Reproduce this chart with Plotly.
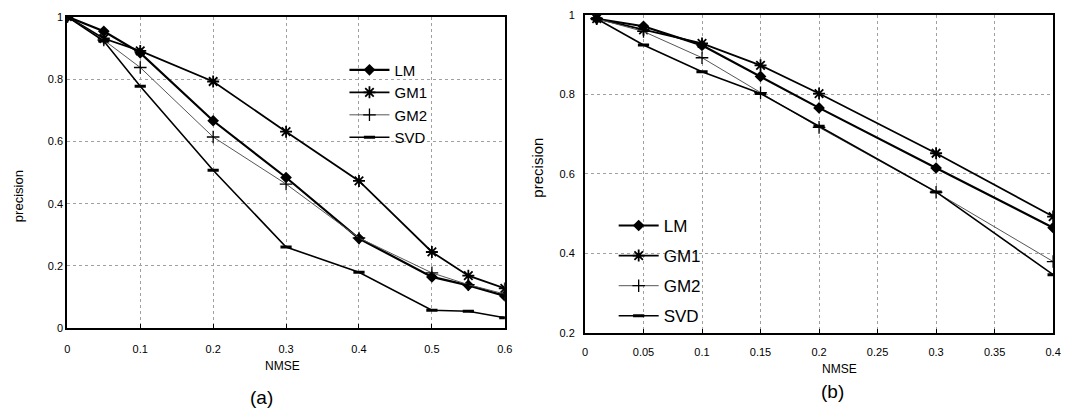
import plotly.graph_objects as go

# ---- panel (a) ----
nmse_a = [0, 0.05, 0.1, 0.2, 0.3, 0.4, 0.5, 0.55, 0.6]
lm_a = [1.0, 0.953, 0.884, 0.666, 0.484, 0.288, 0.165, 0.138, 0.104]
gm1_a = [1.0, 0.93, 0.89, 0.792, 0.631, 0.473, 0.245, 0.169, 0.128]
gm2_a = [1.0, 0.925, 0.837, 0.614, 0.463, 0.29, 0.178, 0.14, 0.11]
svd_a = [1.0, 0.922, 0.777, 0.507, 0.261, 0.18, 0.058, 0.055, 0.034]

# ---- panel (b) ----
nmse_b = [0.01, 0.05, 0.1, 0.15, 0.2, 0.3, 0.4]
lm_b = [0.99, 0.971, 0.923, 0.845, 0.766, 0.615, 0.465]
gm1_b = [0.99, 0.962, 0.928, 0.873, 0.802, 0.652, 0.493]
gm2_b = [0.99, 0.958, 0.892, 0.804, 0.717, 0.554, 0.38]
svd_b = [0.99, 0.924, 0.857, 0.802, 0.72, 0.555, 0.347]

names = ["LM", "GM1", "GM2", "SVD"]
ticks_xa = [0, 0.1, 0.2, 0.3, 0.4, 0.5, 0.6]
ticks_ya = [0, 0.2, 0.4, 0.6, 0.8, 1]
ticks_xb = [0, 0.05, 0.1, 0.15, 0.2, 0.25, 0.3, 0.35, 0.4]
ticks_yb = [0.2, 0.4, 0.6, 0.8, 1]

FONT = "Arial, Liberation Sans, sans-serif"

styles = {
    "LM": dict(line=dict(color="black", width=2.2),
               marker=dict(symbol="diamond", size=9, color="black")),
    "GM1": dict(line=dict(color="black", width=1.8),
                marker=dict(symbol="asterisk-open", size=10, color="black",
                            line=dict(width=1.8, color="black"))),
    "GM2": dict(line=dict(color="#555555", width=1),
                marker=dict(symbol="cross-thin-open", size=9, color="black",
                            line=dict(width=1.3, color="black"))),
    "SVD": dict(line=dict(color="black", width=1.6),
                marker=dict(symbol="line-ew-open", size=8, color="black",
                            line=dict(width=3, color="black"))),
}

fig = go.Figure()

for name, ys in zip(names, [lm_a, gm1_a, gm2_a, svd_a]):
    fig.add_trace(go.Scatter(x=nmse_a, y=ys, name=name, mode="lines+markers",
                             xaxis="x", yaxis="y", legend="legend",
                             **styles[name]))

for name, ys in zip(names, [lm_b, gm1_b, gm2_b, svd_b]):
    fig.add_trace(go.Scatter(x=nmse_b, y=ys, name=name, mode="lines+markers",
                             xaxis="x2", yaxis="y2", legend="legend2",
                             legendgroup="b_" + name,
                             **styles[name]))

W, H = 1073, 412


def px(x):
    return x / W


def py(y):
    return 1 - y / H


axis_common = dict(
    showline=True, linecolor="black", linewidth=2, mirror=True,
    showgrid=True, gridcolor="#a0a0a0", griddash="dot", gridwidth=1,
    zeroline=False, tickfont=dict(family=FONT, size=11, color="black"),
)

fig.update_layout(
    width=W, height=H,
    margin=dict(l=0, r=0, t=0, b=0),
    paper_bgcolor="white", plot_bgcolor="white",
    font=dict(family=FONT, color="black"),
    xaxis=dict(domain=[px(65), px(507)], range=[0, 0.6], anchor="y",
               tickvals=ticks_xa, ticktext=[f"{v:g}" for v in ticks_xa],
               ticks="inside", ticklen=4, tickcolor="black",
               ticklabelstandoff=9, **axis_common),
    yaxis=dict(domain=[py(332), py(11)], range=[0, 1], anchor="x",
               tickvals=ticks_ya, ticktext=[f"{v:g}" for v in ticks_ya],
               ticks="", **axis_common),
    xaxis2=dict(domain=[px(588), px(1061)], range=[0, 0.4], anchor="y2",
                tickvals=ticks_xb, ticktext=[f"{v:g}" for v in ticks_xb],
                ticks="inside", ticklen=4, tickcolor="black",
                ticklabelstandoff=8, **axis_common),
    yaxis2=dict(domain=[py(337), py(9)], range=[0.2, 1], anchor="x2",
                tickvals=ticks_yb, ticktext=[f"{v:g}" for v in ticks_yb],
                ticks="", ticklabelstandoff=6, **axis_common),
    legend=dict(x=px(345), y=py(49), xanchor="left", yanchor="top",
                bgcolor="rgba(0,0,0,0)", borderwidth=0,
                font=dict(family=FONT, size=15, color="black"),
                tracegroupgap=0, itemwidth=40),
    legend2=dict(x=px(617), y=py(208), xanchor="left", yanchor="top",
                 bgcolor="rgba(0,0,0,0)", borderwidth=0,
                 font=dict(family=FONT, size=17, color="black"),
                 tracegroupgap=5, itemwidth=40),
    showlegend=True,
)

annotations = [
    dict(text="precision", x=px(15), y=py(196), textangle=-90, size=13),
    dict(text="NMSE", x=px(282), y=py(371), textangle=0, size=12),
    dict(text="(a)", x=px(261), y=py(403), textangle=0, size=19),
    dict(text="precision", x=px(540), y=py(166), textangle=-90, size=15),
    dict(text="NMSE", x=px(845), y=py(374), textangle=0, size=12),
    dict(text="(b)", x=px(838), y=py(397), textangle=0, size=19),
]
for a in annotations:
    fig.add_annotation(text=a["text"], x=a["x"], y=a["y"], xref="paper",
                       yref="paper", showarrow=False, textangle=a["textangle"],
                       font=dict(family=FONT, size=a["size"], color="black"),
                       xanchor="center", yanchor="middle")

fig.write_html("out.html")
